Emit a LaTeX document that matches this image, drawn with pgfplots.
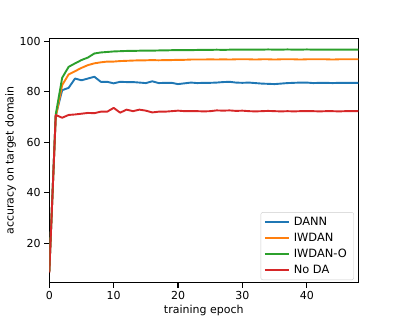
\documentclass[border=0pt]{standalone}
\usepackage{pgfplots}
\pgfplotsset{compat=1.18}
\usepackage{fontspec}
\setmainfont{DejaVu Sans}
\definecolor{c0}{HTML}{1F77B4}
\definecolor{c1}{HTML}{FF7F0E}
\definecolor{c2}{HTML}{2CA02C}
\definecolor{c3}{HTML}{D62728}
\begin{document}
\fontsize{11pt}{13pt}\selectfont
\begin{tikzpicture}
\path (-49.3pt,-36.3pt) rectangle (349.7pt,282.7pt);
\begin{axis}[
  at={(0pt,0pt)}, anchor=south west,
  scale only axis, width=309pt, height=244.4pt,
  xmin=0, xmax=48, ymin=4.5, ymax=101.1,
  xtick={0,10,20,30,40}, ytick={20,40,60,80,100},
  tick align=outside, tickwidth=4.9pt,
  xtick pos=bottom, ytick pos=left,
  axis line style={line width=1.1pt},
  major tick style={line width=1.1pt, black},
  /pgf/number format/assume math mode=true,
  ticklabel style={font=\fontsize{11pt}{13pt}\selectfont},
  label style={font=\fontsize{11pt}{13pt}\selectfont},
  xlabel={training epoch}, ylabel={accuracy on target domain},
  xlabel style={yshift=2pt}, ylabel style={yshift=-4pt},
  every axis plot/.append style={line width=1.9pt, line join=round},
  legend cell align=left,
  legend style={at={(rel axis cs:0.986,0.011)}, anchor=south east,
    draw=black!20, rounded corners=2pt, fill=white, fill opacity=0.8, text opacity=1,
    font=\fontsize{11.4pt}{13pt}\selectfont, row sep=5.8pt, inner xsep=3pt, inner ysep=5pt,
    nodes={inner xsep=4pt, inner ysep=0pt}},
  legend image code/.code={\draw[#1, line width=2pt] (-1pt,0.2pt) -- (23pt,0.2pt);},
]
\addplot[c0] coordinates {(0,9) (1,70.5) (2,80.6) (3,81.5) (4,85.2) (5,84.5) (6,85.2) (7,85.9) (8,83.9) (9,83.9) (10,83.3) (11,83.9) (12,83.8) (13,83.8) (14,83.6) (15,83.4) (16,84.1) (17,83.4) (18,83.5) (19,83.5) (20,83.0) (21,83.3) (22,83.6) (23,83.4) (24,83.5) (25,83.5) (26,83.6) (27,83.8) (28,83.9) (29,83.6) (30,83.5) (31,83.6) (32,83.4) (33,83.2) (34,83.1) (35,83.0) (36,83.2) (37,83.4) (38,83.5) (39,83.6) (40,83.6) (41,83.4) (42,83.5) (43,83.5) (44,83.4) (45,83.5) (46,83.5) (47,83.5) (48,83.5)};
\addlegendentry{DANN}
\addplot[c1] coordinates {(0,9) (1,70) (2,82.6) (3,86.8) (4,88.1) (5,89.4) (6,90.5) (7,91.2) (8,91.6) (9,91.9) (10,91.9) (11,92.1) (12,92.2) (13,92.3) (14,92.4) (15,92.4) (16,92.5) (17,92.4) (18,92.5) (19,92.5) (20,92.6) (21,92.6) (22,92.7) (23,92.7) (24,92.7) (25,92.8) (26,92.7) (27,92.8) (28,92.7) (29,92.8) (30,92.8) (31,92.8) (32,92.7) (33,92.8) (34,92.8) (35,92.7) (36,92.8) (37,92.8) (38,92.8) (39,92.7) (40,92.8) (41,92.8) (42,92.8) (43,92.8) (44,92.7) (45,92.8) (46,92.8) (47,92.8) (48,92.8)};
\addlegendentry{IWDAN}
\addplot[c2] coordinates {(0,9) (1,71) (2,85.5) (3,89.8) (4,91.2) (5,92.5) (6,93.5) (7,95.1) (8,95.5) (9,95.7) (10,95.9) (11,96.0) (12,96.1) (13,96.1) (14,96.2) (15,96.2) (16,96.2) (17,96.3) (18,96.3) (19,96.4) (20,96.4) (21,96.4) (22,96.4) (23,96.5) (24,96.5) (25,96.5) (26,96.6) (27,96.5) (28,96.6) (29,96.6) (30,96.6) (31,96.6) (32,96.6) (33,96.6) (34,96.7) (35,96.6) (36,96.6) (37,96.7) (38,96.6) (39,96.6) (40,96.7) (41,96.6) (42,96.6) (43,96.6) (44,96.6) (45,96.6) (46,96.6) (47,96.6) (48,96.6)};
\addlegendentry{IWDAN-O}
\addplot[c3] coordinates {(0,8.5) (1,70.8) (2,69.7) (3,70.8) (4,71.0) (5,71.3) (6,71.6) (7,71.5) (8,72.1) (9,72.1) (10,73.6) (11,71.7) (12,72.9) (13,72.3) (14,72.9) (15,72.5) (16,71.8) (17,72.1) (18,72.1) (19,72.3) (20,72.5) (21,72.3) (22,72.3) (23,72.3) (24,72.2) (25,72.3) (26,72.6) (27,72.5) (28,72.6) (29,72.4) (30,72.5) (31,72.3) (32,72.2) (33,72.3) (34,72.4) (35,72.3) (36,72.2) (37,72.3) (38,72.2) (39,72.3) (40,72.3) (41,72.3) (42,72.2) (43,72.3) (44,72.3) (45,72.2) (46,72.3) (47,72.3) (48,72.3)};
\addlegendentry{No DA}
\end{axis}
\end{tikzpicture}
\end{document}
